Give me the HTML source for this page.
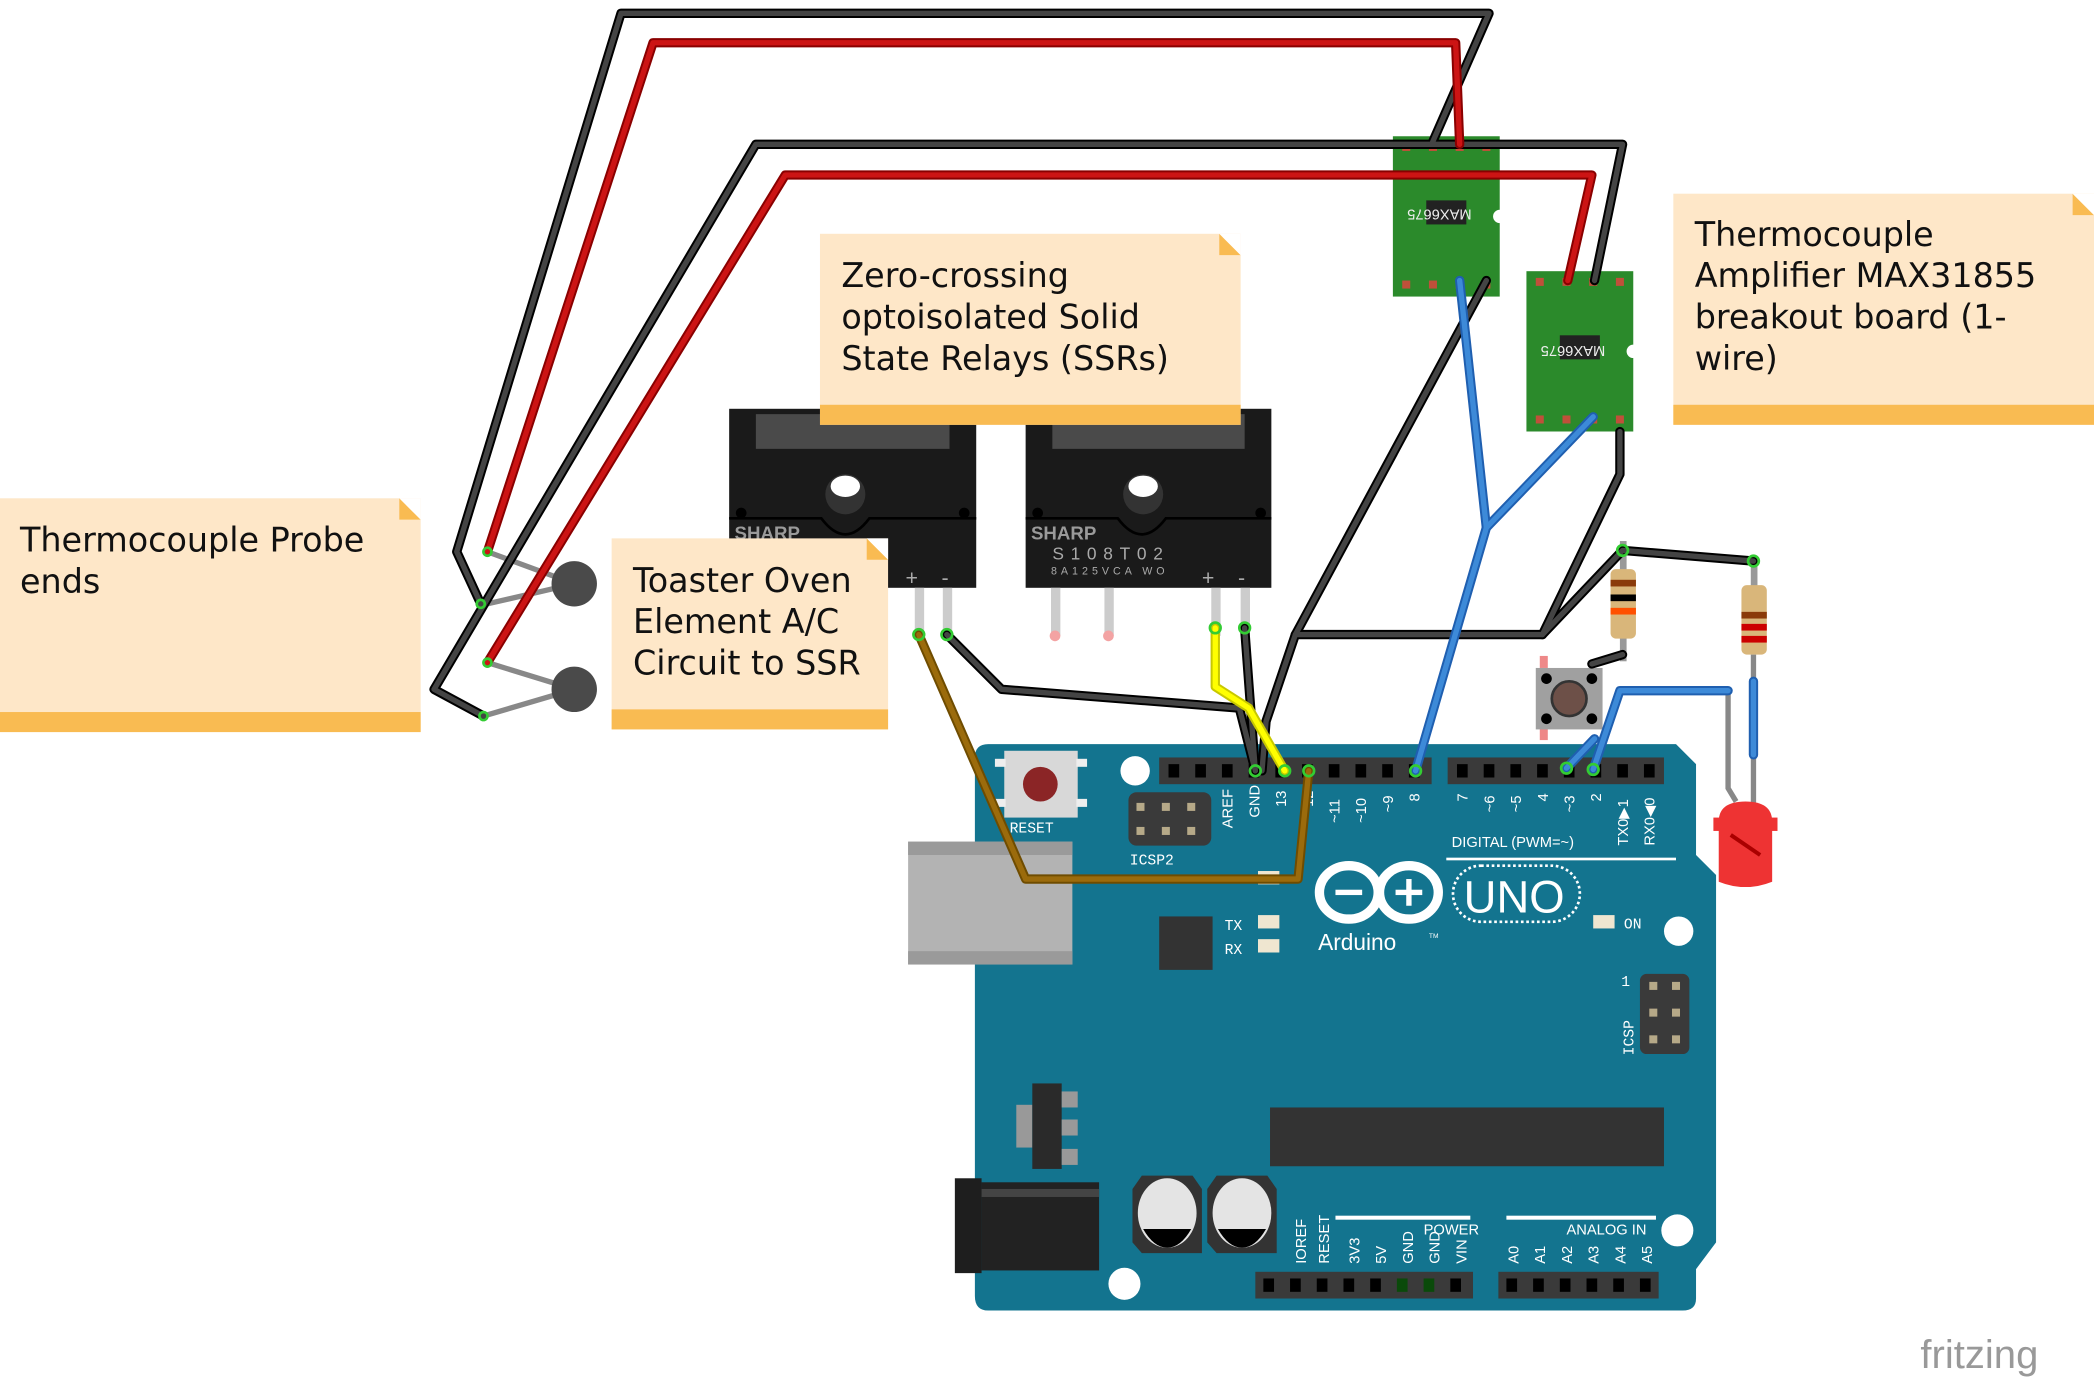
<!DOCTYPE html>
<html><head><meta charset="utf-8"><style>
html,body{margin:0;padding:0;background:#fff;}
svg{display:block;}
text{font-family:"Liberation Sans",sans-serif;}
.n{font-family:"DejaVu Sans","Liberation Sans",sans-serif;font-size:25px;fill:#111;}
.pl{font-family:"Liberation Mono",monospace;font-size:11px;fill:#fff;}
</style></head><body>
<svg width="2094" height="1380" viewBox="0 0 1568 1033" preserveAspectRatio="none" xmlns="http://www.w3.org/2000/svg">
<rect width="1568" height="1033" fill="#fff"/>

<!-- Arduino board -->
<path d="M740,557 L1255,557 L1270,572 L1270,640 L1285,655 L1285,930 L1270,950 L1270,972 Q1270,981 1260,981 L740,981 Q730,981 730,970 L730,567 Q730,557 740,557 Z" fill="#13748f"/>
<!-- USB -->
<rect x="680" y="630" width="123" height="92" fill="#b3b3b3"/>
<rect x="680" y="630" width="123" height="10" fill="#9a9a9a"/>
<rect x="680" y="712" width="123" height="10" fill="#9a9a9a"/>
<!-- reset button -->
<rect x="752" y="562" width="55" height="50" fill="#d8d8d8"/>
<rect x="745" y="568" width="8" height="6" fill="#eee"/><rect x="745" y="598" width="8" height="6" fill="#eee"/>
<rect x="806" y="568" width="8" height="6" fill="#eee"/><rect x="806" y="598" width="8" height="6" fill="#eee"/>
<circle cx="779" cy="587" r="13" fill="#8b2526"/>
<text x="756" y="623" class="pl" font-size="12">RESET</text>
<circle cx="850" cy="577" r="11" fill="#fff"/>
<!-- ICSP2 -->
<rect x="845" y="593" width="62" height="40" rx="6" fill="#3a3a3a"/>
<g fill="#b6a988"><rect x="851" y="601" width="6" height="6"/><rect x="870" y="601" width="6" height="6"/><rect x="889" y="601" width="6" height="6"/><rect x="851" y="619" width="6" height="6"/><rect x="870" y="619" width="6" height="6"/><rect x="889" y="619" width="6" height="6"/></g>
<text x="846" y="647" class="pl" font-size="12">ICSP2</text>
<!-- digital headers -->
<rect x="868" y="567" width="204" height="20" fill="#3a3a3a"/>
<rect x="1084" y="567" width="162" height="20" fill="#3a3a3a"/>
<g fill="#000">
<rect x="875" y="572" width="8" height="10"/><rect x="895" y="572" width="8" height="10"/><rect x="915" y="572" width="8" height="10"/><rect x="935" y="572" width="8" height="10"/><rect x="955" y="572" width="8" height="10"/><rect x="975" y="572" width="8" height="10"/><rect x="995" y="572" width="8" height="10"/><rect x="1015" y="572" width="8" height="10"/><rect x="1035" y="572" width="8" height="10"/><rect x="1055" y="572" width="8" height="10"/>
<rect x="1091" y="572" width="8" height="10"/><rect x="1111" y="572" width="8" height="10"/><rect x="1131" y="572" width="8" height="10"/><rect x="1151" y="572" width="8" height="10"/><rect x="1171" y="572" width="8" height="10"/><rect x="1191" y="572" width="8" height="10"/><rect x="1211" y="572" width="8" height="10"/><rect x="1231" y="572" width="8" height="10"/>
</g>
<g class="pl">
<text transform="translate(923,620) rotate(-90)">AREF</text>
<text transform="translate(943,612) rotate(-90)">GND</text>
<text transform="translate(963,604) rotate(-90)">13</text>
<text transform="translate(983,604) rotate(-90)">12</text>
<text transform="translate(1003,616) rotate(-90)">~11</text>
<text transform="translate(1023,616) rotate(-90)">~10</text>
<text transform="translate(1043,608) rotate(-90)">~9</text>
<text transform="translate(1063,600) rotate(-90)">8</text>
<text transform="translate(1099,600) rotate(-90)">7</text>
<text transform="translate(1119,608) rotate(-90)">~6</text>
<text transform="translate(1139,608) rotate(-90)">~5</text>
<text transform="translate(1159,600) rotate(-90)">4</text>
<text transform="translate(1179,608) rotate(-90)">~3</text>
<text transform="translate(1199,600) rotate(-90)">2</text>
<text transform="translate(1219,633) rotate(-90)">TX0▶1</text>
<text transform="translate(1239,633) rotate(-90)">RX0◀0</text>
<text x="1087" y="634">DIGITAL (PWM=~)</text>
</g>
<rect x="1083" y="642" width="172" height="2" fill="#fff"/>
<rect x="942" y="652" width="16" height="10" fill="#efe6d0"/>
<!-- logo -->
<g fill="none" stroke="#fff" stroke-width="7">
<ellipse cx="1010" cy="668" rx="22" ry="20"/><ellipse cx="1055" cy="668" rx="22" ry="20"/>
</g>
<rect x="1000" y="666" width="20" height="4" fill="#fff"/>
<rect x="1045" y="666" width="20" height="4" fill="#fff"/><rect x="1053" y="658" width="4" height="20" fill="#fff"/>
<rect x="1088" y="648" width="95" height="42" rx="21" fill="none" stroke="#fff" stroke-width="2" stroke-dasharray="2,2"/>
<text x="1096" y="683" fill="#fff" font-size="34" font-family="Liberation Sans">UNO</text>
<text x="987" y="711" fill="#fff" font-size="17" font-family="Liberation Mono">Arduino</text>
<text x="1070" y="702" fill="#fff" font-size="5">TM</text>
<rect x="868" y="686" width="40" height="40" fill="#333"/>
<text x="917" y="696" class="pl" font-size="13">TX</text><rect x="942" y="685" width="16" height="10" fill="#efe6d0"/>
<text x="917" y="714" class="pl" font-size="13">RX</text><rect x="942" y="703" width="16" height="10" fill="#efe6d0"/>
<rect x="1193" y="685" width="16" height="10" fill="#efe6d0"/>
<text x="1216" y="695" class="pl" font-size="13">ON</text>
<circle cx="1257" cy="697" r="11" fill="#fff"/>
<!-- ICSP -->
<rect x="1228" y="729" width="37" height="60" rx="5" fill="#3a3a3a"/>
<g fill="#b6a988"><rect x="1235" y="735" width="6" height="6"/><rect x="1252" y="735" width="6" height="6"/><rect x="1235" y="755" width="6" height="6"/><rect x="1252" y="755" width="6" height="6"/><rect x="1235" y="775" width="6" height="6"/><rect x="1252" y="775" width="6" height="6"/></g>
<text x="1214" y="738" class="pl" font-size="12">1</text>
<text transform="translate(1223,790) rotate(-90)" class="pl" font-size="12">ICSP</text>
<!-- regulator -->
<rect x="761" y="827" width="12" height="32" fill="#999"/>
<rect x="773" y="811" width="22" height="64" fill="#2a2a2a"/>
<rect x="795" y="817" width="12" height="12" fill="#999"/><rect x="795" y="838" width="12" height="12" fill="#999"/><rect x="795" y="860" width="12" height="12" fill="#999"/>
<!-- chip -->
<rect x="951" y="829" width="295" height="44" fill="#333"/>
<!-- jack -->
<rect x="715" y="882" width="20" height="71" fill="#1e1e1e"/>
<rect x="735" y="885" width="88" height="66" fill="#222"/>
<rect x="735" y="890" width="88" height="6" fill="#444"/>
<!-- caps -->
<path d="M855,880 L893,880 L900,890 L900,938 L855,938 L848,930 L848,890 Z" fill="#333"/>
<ellipse cx="874" cy="908" rx="22" ry="26" fill="#e4e4e4"/>
<path d="M856,920 L892,920 Q884,934 874,934 Q864,934 856,920Z" fill="#000"/>
<path d="M911,880 L949,880 L956,890 L956,938 L911,938 L904,930 L904,890 Z" fill="#333"/>
<ellipse cx="930" cy="908" rx="22" ry="26" fill="#e4e4e4"/>
<path d="M912,920 L948,920 Q940,934 930,934 Q920,934 912,920Z" fill="#000"/>
<circle cx="842" cy="961" r="12" fill="#fff"/>
<circle cx="1256" cy="921" r="12" fill="#fff"/>
<!-- power/analog headers -->
<rect x="940" y="952" width="163" height="20" fill="#3a3a3a"/>
<rect x="1122" y="952" width="120" height="20" fill="#3a3a3a"/>
<g fill="#000">
<rect x="946" y="957" width="8" height="10"/><rect x="966" y="957" width="8" height="10"/><rect x="986" y="957" width="8" height="10"/><rect x="1006" y="957" width="8" height="10"/><rect x="1026" y="957" width="8" height="10"/><rect x="1046" y="957" width="8" height="10" fill="#0a4a0a"/><rect x="1066" y="957" width="8" height="10" fill="#0a4a0a"/><rect x="1086" y="957" width="8" height="10"/>
<rect x="1128" y="957" width="8" height="10"/><rect x="1148" y="957" width="8" height="10"/><rect x="1168" y="957" width="8" height="10"/><rect x="1188" y="957" width="8" height="10"/><rect x="1208" y="957" width="8" height="10"/><rect x="1228" y="957" width="8" height="10"/>
</g>
<rect x="1000" y="910" width="101" height="3" fill="#fff"/>
<rect x="1128" y="910" width="112" height="3" fill="#fff"/>
<g class="pl">
<text x="1066" y="924">POWER</text><text x="1173" y="924">ANALOG IN</text>
<text transform="translate(978,946) rotate(-90)">IOREF</text>
<text transform="translate(995,946) rotate(-90)">RESET</text>
<text transform="translate(1018,946) rotate(-90)">3V3</text>
<text transform="translate(1038,946) rotate(-90)">5V</text>
<text transform="translate(1058,946) rotate(-90)">GND</text>
<text transform="translate(1078,946) rotate(-90)">GND</text>
<text transform="translate(1098,946) rotate(-90)">VIN</text>
<text transform="translate(1137,946) rotate(-90)">A0</text>
<text transform="translate(1157,946) rotate(-90)">A1</text>
<text transform="translate(1177,946) rotate(-90)">A2</text>
<text transform="translate(1197,946) rotate(-90)">A3</text>
<text transform="translate(1217,946) rotate(-90)">A4</text>
<text transform="translate(1237,946) rotate(-90)">A5</text>
</g>

<!-- SSRs -->
<g>
<rect x="546" y="306" width="185" height="134" fill="#1a1a1a"/>
<rect x="566" y="310" width="145" height="26" fill="#4a4a4a"/>
<path d="M546,388 L615,388 Q633,412 651,388 L731,388" fill="none" stroke="#000" stroke-width="2"/>
<circle cx="633" cy="370" r="15" fill="#333"/><ellipse cx="633" cy="364" rx="11" ry="8" fill="#fff"/>
<circle cx="555" cy="384" r="4" fill="#000"/><circle cx="722" cy="384" r="4" fill="#000"/>
<text x="550" y="404" fill="#9a9a9a" font-size="14" font-weight="bold">SHARP</text>
<text x="678" y="438" fill="#aaa" font-size="16">+</text><text x="705" y="438" fill="#aaa" font-size="16">-</text>
<rect x="685" y="440" width="7" height="36" fill="#ccc"/><rect x="706" y="440" width="7" height="36" fill="#ccc"/>
</g>
<g>
<rect x="768" y="306" width="184" height="134" fill="#1a1a1a"/>
<rect x="788" y="310" width="144" height="26" fill="#4a4a4a"/>
<path d="M768,388 L837,388 Q855,412 873,388 L952,388" fill="none" stroke="#000" stroke-width="2"/>
<circle cx="856" cy="370" r="15" fill="#333"/><ellipse cx="856" cy="364" rx="11" ry="8" fill="#fff"/>
<circle cx="777" cy="384" r="4" fill="#000"/><circle cx="944" cy="384" r="4" fill="#000"/>
<text x="772" y="404" fill="#9a9a9a" font-size="14" font-weight="bold">SHARP</text>
<text x="788" y="419" fill="#aaa" font-size="13" letter-spacing="5">S108T02</text>
<text x="787" y="430" fill="#aaa" font-size="8" letter-spacing="3">8A125VCA WO</text>
<text x="900" y="438" fill="#aaa" font-size="16">+</text><text x="927" y="438" fill="#aaa" font-size="16">-</text>
<rect x="787" y="440" width="7" height="36" fill="#ccc"/><rect x="827" y="440" width="7" height="36" fill="#ccc"/>
<rect x="907" y="440" width="7" height="36" fill="#ccc"/><rect x="929" y="440" width="7" height="36" fill="#ccc"/>
<circle cx="790" cy="476" r="4" fill="#f3a3a3"/><circle cx="830" cy="476" r="4" fill="#f3a3a3"/>
</g>

<!-- MAX boards -->
<g>
<rect x="1043" y="102" width="80" height="120" fill="#2b8a2b"/>
<circle cx="1123" cy="162" r="5" fill="#fff"/>
<rect x="1068" y="150" width="30" height="18" fill="#222"/>
<text transform="translate(1102,157) rotate(180)" fill="#eee" font-size="11" font-family="Liberation Mono">MAX6675</text>
<g fill="#c0503a"><rect x="1050" y="107" width="6" height="6"/><rect x="1070" y="107" width="6" height="6"/><rect x="1090" y="107" width="6" height="6"/><rect x="1110" y="107" width="6" height="6"/><rect x="1050" y="210" width="6" height="6"/><rect x="1070" y="210" width="6" height="6"/><rect x="1090" y="210" width="6" height="6"/><rect x="1110" y="210" width="6" height="6"/></g>
</g>
<g>
<rect x="1143" y="203" width="80" height="120" fill="#2b8a2b"/>
<circle cx="1223" cy="263" r="5" fill="#fff"/>
<rect x="1168" y="251" width="30" height="18" fill="#222"/>
<text transform="translate(1202,259) rotate(180)" fill="#eee" font-size="11" font-family="Liberation Mono">MAX6675</text>
<g fill="#c0503a"><rect x="1150" y="208" width="6" height="6"/><rect x="1170" y="208" width="6" height="6"/><rect x="1190" y="208" width="6" height="6"/><rect x="1210" y="208" width="6" height="6"/><rect x="1150" y="311" width="6" height="6"/><rect x="1170" y="311" width="6" height="6"/><rect x="1190" y="311" width="6" height="6"/><rect x="1210" y="311" width="6" height="6"/></g>
</g>

<!-- resistors, button, LED -->
<rect x="1213" y="405" width="5" height="90" fill="#999"/>
<rect x="1206" y="426" width="19" height="52" rx="4" fill="#d9b67a"/>
<rect x="1206" y="434" width="19" height="5" fill="#8a3a0a"/><rect x="1206" y="445" width="19" height="5" fill="#000"/><rect x="1206" y="455" width="19" height="5" fill="#ff5000"/>
<rect x="1311" y="420" width="5" height="60" fill="#999"/>
<rect x="1304" y="438" width="19" height="52" rx="4" fill="#d9b67a"/>
<rect x="1304" y="458" width="19" height="5" fill="#8a3a0a"/><rect x="1304" y="467" width="19" height="5" fill="#c00"/><rect x="1304" y="476" width="19" height="5" fill="#c00"/>
<rect x="1153" y="491" width="6" height="9" fill="#e88"/><rect x="1153" y="545" width="6" height="9" fill="#e88"/>
<rect x="1150" y="500" width="50" height="46" fill="#a0a0a0"/>
<circle cx="1158" cy="508" r="4" fill="#000"/><circle cx="1192" cy="508" r="4" fill="#000"/><circle cx="1158" cy="538" r="4" fill="#000"/><circle cx="1192" cy="538" r="4" fill="#000"/>
<circle cx="1175" cy="523" r="13" fill="#6d5048" stroke="#333" stroke-width="2"/>
<path d="M1294,517 L1294,590 L1300,600" fill="none" stroke="#888" stroke-width="4"/>
<path d="M1313,490 L1313,605" fill="none" stroke="#888" stroke-width="4"/>
<path d="M1287,615 Q1287,600 1307,600 Q1327,600 1327,615 L1327,660 Q1307,668 1287,660 Z" fill="#e33"/>
<rect x="1283" y="612" width="48" height="10" fill="#e33"/>
<path d="M1296,625 L1318,640" stroke="#a00" stroke-width="3"/>

<!-- Thermistors -->
<path d="M365,413 L430,437 M365,452 L430,437 M365,496 L430,516 M362,536 L430,516" stroke="#888" stroke-width="4" fill="none"/>
<circle cx="430" cy="437" r="17" fill="#4a4a4a"/>
<circle cx="430" cy="516" r="17" fill="#4a4a4a"/>

<!-- Wires -->
<g fill="none" stroke-linejoin="round" stroke-linecap="round">
<g stroke="#000" stroke-width="7">
<path d="M360,452 L342,413 L465,10 L1115,10 L1072,108"/>
<path d="M362,536 L325,516 L566,108 L1215,108 L1194,210"/>
<path d="M709,475 L750,516 L928,530 L940,577"/>
<path d="M932,470 L940,577"/>
<path d="M1113,210 L970,475 L948,540 L945,577"/>
<path d="M1213,323 L1213,355 L1155,475 L970,475"/>
<path d="M1155,475 L1215,412 L1313,420"/>
<path d="M1192,497 L1215,490"/>
</g>
<g stroke="#444" stroke-width="4">
<path d="M360,452 L342,413 L465,10 L1115,10 L1072,108"/>
<path d="M362,536 L325,516 L566,108 L1215,108 L1194,210"/>
<path d="M709,475 L750,516 L928,530 L940,577"/>
<path d="M932,470 L940,577"/>
<path d="M1113,210 L970,475 L948,540 L945,577"/>
<path d="M1213,323 L1213,355 L1155,475 L970,475"/>
<path d="M1155,475 L1215,412 L1313,420"/>
<path d="M1192,497 L1215,490"/>
</g>
<g stroke="#8a0000" stroke-width="7">
<path d="M365,413 L489,32 L1090,32 L1093,108"/>
<path d="M365,496 L588,131 L1192,131 L1174,210"/>
</g>
<g stroke="#cc1414" stroke-width="4">
<path d="M365,413 L489,32 L1090,32 L1093,108"/>
<path d="M365,496 L588,131 L1192,131 L1174,210"/>
</g>
<path d="M688,475 L768,658 L972,658 L980,577" stroke="#6f4c00" stroke-width="7"/>
<path d="M688,475 L768,658 L972,658 L980,577" stroke="#9b6b0c" stroke-width="4"/>
<path d="M910,470 L910,514 L935,530 L962,577" stroke="#c8c800" stroke-width="7"/>
<path d="M910,470 L910,514 L935,530 L962,577" stroke="#ffff00" stroke-width="4"/>
<g stroke="#1f5fb0" stroke-width="7">
<path d="M1093,210 L1113,395 L1060,577"/><path d="M1193,312 L1113,395"/>
<path d="M1173,575 L1194,553"/><path d="M1193,576 L1213,517 L1294,517"/>
<path d="M1313,510 L1313,565"/>
</g>
<g stroke="#3d8ad8" stroke-width="4">
<path d="M1093,210 L1113,395 L1060,577"/><path d="M1193,312 L1113,395"/>
<path d="M1173,575 L1194,553"/><path d="M1193,576 L1213,517 L1294,517"/>
<path d="M1313,510 L1313,565"/>
</g>
</g>
<g fill="none" stroke="#3c3" stroke-width="2">
<circle cx="688" cy="475" r="4"/><circle cx="709" cy="475" r="4"/><circle cx="910" cy="470" r="4"/><circle cx="932" cy="470" r="4"/>
<circle cx="940" cy="577" r="4"/><circle cx="962" cy="577" r="4"/><circle cx="980" cy="577" r="4"/><circle cx="1060" cy="577" r="4"/>
<circle cx="1173" cy="575" r="4"/><circle cx="1193" cy="576" r="4"/><circle cx="1215" cy="412" r="4"/><circle cx="1313" cy="420" r="4"/>
<circle cx="365" cy="413" r="3"/><circle cx="360" cy="452" r="3"/><circle cx="365" cy="496" r="3"/><circle cx="362" cy="536" r="3"/>
</g>

<!-- Notes -->
<g>
<rect x="0" y="373" width="315" height="175" fill="#fee7c8"/>
<rect x="0" y="533" width="315" height="15" fill="#f9bb52"/>
<path d="M299,373 L315,389 L299,389Z" fill="#f9bb52"/><path d="M299,373 L315,373 L315,389Z" fill="#fff"/>
<text class="n" x="15" y="413">Thermocouple Probe</text>
<text class="n" x="15" y="444">ends</text>
</g>
<g>
<rect x="458" y="403" width="207" height="143" fill="#fee7c8"/>
<rect x="458" y="531" width="207" height="15" fill="#f9bb52"/>
<path d="M649,403 L665,419 L649,419Z" fill="#f9bb52"/><path d="M649,403 L665,403 L665,419Z" fill="#fff"/>
<text class="n" x="474" y="443">Toaster Oven</text>
<text class="n" x="474" y="474">Element A/C</text>
<text class="n" x="474" y="505">Circuit to SSR</text>
</g>
<g>
<rect x="614" y="175" width="315" height="143" fill="#fee7c8"/>
<rect x="614" y="303" width="315" height="15" fill="#f9bb52"/>
<path d="M913,175 L929,191 L913,191Z" fill="#f9bb52"/><path d="M913,175 L929,175 L929,191Z" fill="#fff"/>
<text class="n" x="630" y="215">Zero-crossing</text>
<text class="n" x="630" y="246">optoisolated Solid</text>
<text class="n" x="630" y="277">State Relays (SSRs)</text>
</g>
<g>
<rect x="1253" y="145" width="315" height="173" fill="#fee7c8"/>
<rect x="1253" y="303" width="315" height="15" fill="#f9bb52"/>
<path d="M1552,145 L1568,161 L1552,161Z" fill="#f9bb52"/><path d="M1552,145 L1568,145 L1568,161Z" fill="#fff"/>
<text class="n" x="1269" y="184">Thermocouple</text>
<text class="n" x="1269" y="215">Amplifier MAX31855</text>
<text class="n" x="1269" y="246">breakout board (1-</text>
<text class="n" x="1269" y="277">wire)</text>
</g>
<text x="1438" y="1024" fill="#999" font-size="30" font-family="DejaVu Sans">fritzing</text>
</svg>
</body></html>
